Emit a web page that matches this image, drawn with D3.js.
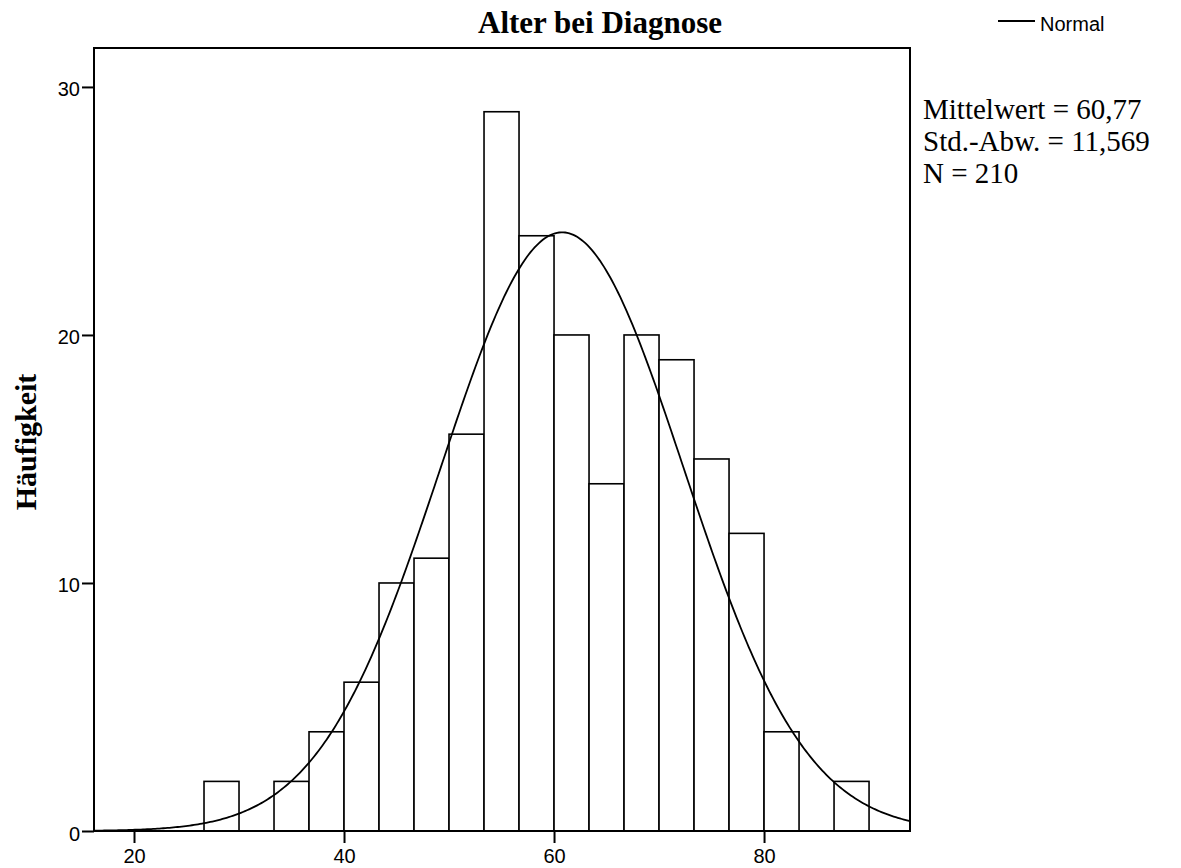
<!DOCTYPE html>
<html>
<head>
<meta charset="utf-8">
<script src="https://cdn.jsdelivr.net/npm/d3@7"></script>
<style>
  body { margin: 0; background: #fff; }
</style>
</head>
<body>
<div id="chart"></div>
<script>
// histogram data: bins of 10/3 years starting at 26.67
const binStart = 80 / 3
const binWidth = 10 / 3
const counts = [2, 0, 2, 4, 6, 10, 11, 16, 29, 24, 20, 14, 20, 19, 15, 12, 4, 0, 2]
const xTicks = [20, 40, 60, 80]
const yTicks = [0, 10, 20, 30]
const stats = { mean: 60.77, sd: 11.569, n: 210 }
const statLines = ["Mittelwert = 60,77", "Std.-Abw. = 11,569", "N = 210"]

const width = 1181, height = 868
const plotLeft = 94, plotRight = 910, plotTop = 48, plotBottom = 831

const svg = d3.select("#chart")
    .append("svg")
    .attr("width", width)
    .attr("height", height)

const x = d3.scaleLinear().domain([16.19, 93.9]).range([plotLeft, plotRight])
const y = d3.scaleLinear().domain([0, 31.57]).range([plotBottom, plotTop])

const bins = counts.map((c, i) => ({
    x0: binStart + i * binWidth,
    x1: binStart + (i + 1) * binWidth,
    count: c
}))

// bars
svg.append("g")
    .selectAll("rect")
    .data(bins.filter(d => d.count > 0))
    .join("rect")
    .attr("x", d => x(d.x0))
    .attr("width", d => x(d.x1) - x(d.x0))
    .attr("y", d => y(d.count))
    .attr("height", d => y(0) - y(d.count))
    .attr("fill", "#fff")
    .attr("stroke", "#000")
    .attr("stroke-width", 1.6)

// fitted normal curve (scaled to counts)
const normal = v => stats.n * binWidth / (stats.sd * Math.sqrt(2 * Math.PI)) *
    Math.exp(-0.5 * Math.pow((v - stats.mean) / stats.sd, 2))
const curvePts = d3.range(0, 401).map(i => {
    const v = x.domain()[0] + (x.domain()[1] - x.domain()[0]) * i / 400
    return [v, normal(v)]
})
svg.append("path")
    .datum(curvePts)
    .attr("fill", "none")
    .attr("stroke", "#000")
    .attr("stroke-width", 1.8)
    .attr("d", d3.line().x(d => x(d[0])).y(d => y(d[1])))

// frame
svg.append("rect")
    .attr("x", plotLeft)
    .attr("y", plotTop)
    .attr("width", plotRight - plotLeft)
    .attr("height", plotBottom - plotTop)
    .attr("fill", "none")
    .attr("stroke", "#000")
    .attr("stroke-width", 2)

// axes
const xAxis = svg.append("g")
    .attr("transform", `translate(0, ${plotBottom})`)
    .call(d3.axisBottom(x).tickValues(xTicks).tickSize(12).tickPadding(6).tickSizeOuter(0))
const yAxis = svg.append("g")
    .attr("transform", `translate(${plotLeft}, 0)`)
    .call(d3.axisLeft(y).tickValues(yTicks).tickSize(12).tickPadding(2).tickSizeOuter(0))
;[xAxis, yAxis].forEach(a => {
    a.select(".domain").remove()
    a.selectAll("line").attr("stroke", "#000").attr("stroke-width", 2)
    a.selectAll("text")
        .attr("fill", "#000")
        .attr("font-family", "Liberation Sans, Arial, sans-serif")
        .attr("font-size", 20)
})
yAxis.selectAll("text").attr("dy", "0.45em")

// title
svg.append("text")
    .attr("x", 600)
    .attr("y", 33)
    .attr("text-anchor", "middle")
    .attr("font-family", "Liberation Serif, Times New Roman, serif")
    .attr("font-weight", "bold")
    .attr("font-size", 31)
    .text("Alter bei Diagnose")

// y label
svg.append("text")
    .attr("transform", "translate(36, 442) rotate(-90)")
    .attr("text-anchor", "middle")
    .attr("font-family", "Liberation Serif, Times New Roman, serif")
    .attr("font-weight", "bold")
    .attr("font-size", 30)
    .text("Häufigkeit")

// legend
svg.append("line")
    .attr("x1", 998).attr("x2", 1035)
    .attr("y1", 21).attr("y2", 21)
    .attr("stroke", "#000")
    .attr("stroke-width", 2)
svg.append("text")
    .attr("x", 1040)
    .attr("y", 31)
    .attr("font-family", "Liberation Sans, Arial, sans-serif")
    .attr("font-size", 20)
    .text("Normal")

// statistics box
svg.append("g")
    .selectAll("text")
    .data(statLines)
    .join("text")
    .attr("x", 923)
    .attr("y", (d, i) => 119 + i * 32)
    .attr("font-family", "Liberation Serif, Times New Roman, serif")
    .attr("font-size", 29)
    .text(d => d)
</script>
</body>
</html>
